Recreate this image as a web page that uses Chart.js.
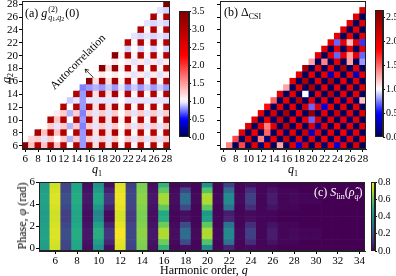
<!DOCTYPE html>
<html><head><meta charset="utf-8">
<script src="https://cdn.jsdelivr.net/npm/chart.js@4.4.1/dist/chart.umd.min.js"></script>
<style>
html,body{margin:0;padding:0;background:#fff;width:396px;height:276px;overflow:hidden;position:relative;font-family:"Liberation Serif",serif;}
canvas{position:absolute;}
.t{position:absolute;white-space:nowrap;color:#000;font-size:12px;line-height:1;font-family:"Liberation Serif",serif;}
.r{transform:translate(-50%,-50%) rotate(-90deg);}
.i{font-style:italic;}
.ss{display:inline-block;vertical-align:middle;line-height:1;font-size:8px;margin:0 1px;}
.ss > span{display:block;}
.s6{font-size:6px;font-style:normal;vertical-align:-1px;}
sub{font-size:8px;vertical-align:-3px;line-height:0;}
</style></head><body>
<canvas id="cA" width="176" height="176" style="left:0;top:0"></canvas>
<canvas id="cbA" width="40" height="150" style="left:170px;top:0"></canvas>
<canvas id="cB" width="170" height="176" style="left:200px;top:0"></canvas>
<canvas id="cbB" width="30" height="150" style="left:366px;top:0"></canvas>
<canvas id="cC" width="370" height="100" style="left:0;top:176px"></canvas>
<canvas id="cbC" width="30" height="100" style="left:366px;top:176px"></canvas>

<div class="t" style="left:25px;top:6px">(a) <span class="i">g</span><span class="ss"><span>(2)</span><span><span class="i">q</span><span class="s6">1</span>,<span class="i">q</span><span class="s6">2</span></span></span>(0)</div>
<div class="t" style="left:224px;top:6px">(b) Δ<sub>CSI</sub></div>
<div class="t" style="left:314px;top:186px;color:#fff">(c) <span class="i">S</span><sub>lin</sub>(<span class="i">ρ̂</span><sub class="i">q</sub>)</div>
<div class="t i" style="left:92px;top:163px">q<sub style="font-style:normal">1</sub></div>
<div class="t i" style="left:288px;top:163px">q<sub style="font-style:normal">1</sub></div>
<div class="t i r" style="left:6px;top:78px">q<sub style="font-style:normal">2</sub></div>
<div class="t" style="left:78px;top:62px;font-size:11.5px;transform:translate(-50%,-50%) rotate(-45deg)">Autocorrelation</div>
<div class="t r" style="left:22px;top:216px">Phase, <span class="i">φ</span> (rad)</div>
<div class="t" style="left:160px;top:264px">Harmonic order, <span class="i">q</span></div>

<script>
// ---------- data ----------
const qTicks = [6,8,10,12,14,16,18,20,22,24,26,28];
const q2Rows = [6,7,8,9,10,11,12,13,14,15,16,17,18,19,20,21,22,23,24,25,26,27,28];
// panel (a): g2(q1,q2), each row q2 lists q1 = q2..28
const g2Rows = [
 [3.4,1.3,3.0,1.3,3.0,1.3,3.0,1.0,3.0,0.8,3.1,1.15,3.0,1.15,3.1,1.05,3.0,1.05,3.0,1.05,3.0,1.05,3.0],
 [1.2,1.25,0.95,1.25,1.0,1.25,0.85,1.25,0.8,1.25,0.95,1.25,0.95,1.25,1.0,1.25,0.95,1.25,0.95,1.25,0.95,1.25],
 [3.1,1.3,3.0,1.3,3.0,1.0,3.0,0.8,3.1,1.15,3.0,1.15,3.1,1.05,3.0,1.05,3.0,1.05,3.0,1.05,3.0],
 [1.0,1.25,0.95,1.25,0.85,1.25,0.75,1.25,0.95,1.25,0.95,1.25,1.0,1.25,0.95,1.25,0.95,1.25,0.95,1.25],
 [3.0,1.3,3.0,1.0,3.0,0.8,3.1,1.15,3.0,1.15,3.1,1.05,3.0,1.05,3.0,1.05,3.0,1.05,3.0],
 [1.1,1.25,0.85,1.25,0.75,1.25,0.95,1.25,0.95,1.25,1.0,1.25,0.95,1.25,0.95,1.25,0.95,1.25],
 [3.0,1.0,3.0,0.8,3.1,1.15,3.0,1.15,3.1,1.05,3.0,1.05,3.0,1.05,3.0,1.05,3.0],
 [0.9,0.95,0.8,0.95,0.95,0.95,0.95,0.95,1.0,0.95,0.95,0.95,0.95,0.95,0.95,0.95],
 [3.0,0.8,3.1,1.15,3.0,1.15,3.1,1.05,3.0,1.05,3.0,1.05,3.0,1.05,3.0],
 [0.75,0.8,0.85,0.8,0.9,0.8,0.95,0.8,0.9,0.8,0.9,0.8,0.9,0.8],
 [3.4,1.15,3.1,1.15,3.2,1.05,3.0,1.05,3.0,1.05,3.0,1.05,3.0],
 [1.0,1.1,1.0,1.1,1.0,1.1,0.95,1.1,0.95,1.1,0.95,1.1],
 [3.4,1.15,3.3,1.05,3.0,1.05,3.0,1.05,3.0,1.05,3.0],
 [1.0,1.1,1.0,1.1,0.95,1.1,0.95,1.1,0.95,1.1],
 [3.4,1.05,3.0,1.05,3.0,1.05,3.0,1.05,3.0],
 [1.0,0.92,1.0,0.92,1.0,0.92,1.0,0.92],
 [3.0,1.05,3.0,1.05,3.0,1.05,3.0],
 [0.95,0.92,0.95,0.92,0.95,0.92],
 [3.0,1.05,3.0,1.05,3.0],
 [0.95,0.92,0.95,0.92],
 [3.1,1.05,3.0],
 [0.95,0.92],
 [3.5]
];
// panel (b): Delta_CSI(q1,q2), each row q2 lists q1 = q2+1..28
const csiRowsQ2 = [6,7,8,9,10,11,12,13,14,15,16,17,18,19,20,21,22,23,24,25,26,27];
const csiRows = [
 [1.4,0.05,1.6,0.05,2.0,0.1,1.9,0.05,1.3,0.05,2.0,0.4,2.1,0.05,2.0,0.1,1.9,0.4,2.0,0.05,2.1,0.05],
 [1.6,0.05,2.0,0.05,1.4,0.1,2.0,0.05,2.2,0.05,2.0,0.1,2.0,0.05,1.9,0.05,2.0,0.1,2.0,0.05,1.9],
 [2.0,0.05,1.9,0.05,1.5,0.05,2.0,0.1,2.0,0.05,2.2,0.35,2.0,0.05,2.0,0.05,1.9,0.1,2.0,0.05],
 [2.0,0.05,2.0,1.4,2.0,0.05,2.3,0.05,2.0,0.05,2.0,0.2,2.0,0.05,1.9,0.05,2.0,0.05,2.0],
 [2.0,0.05,2.0,0.1,2.2,0.05,2.0,0.05,2.0,0.7,2.1,0.05,2.0,0.05,2.0,0.1,2.0,0.05],
 [2.0,0.05,2.1,0.05,2.4,0.05,2.0,0.05,2.5,0.05,2.0,0.05,2.2,0.05,2.0,0.05,2.0],
 [1.8,0.05,2.0,0.05,2.0,0.05,2.1,0.7,2.0,0.4,2.0,0.05,2.0,0.05,2.0,0.05],
 [1.5,0.05,2.0,0.05,2.3,0.05,2.0,0.05,2.0,0.05,2.0,0.1,2.0,0.05,1.2],
 [2.0,0.05,2.0,0.05,1.0,0.05,2.0,0.05,2.3,0.05,2.0,0.05,2.0,0.05],
 [1.3,0.05,2.0,0.05,2.4,0.05,2.0,0.05,2.0,0.05,2.0,0.05,2.0],
 [2.0,0.05,2.4,0.05,2.0,0.05,2.4,0.05,2.0,0.05,2.0,0.05],
 [2.0,0.05,2.0,0.05,2.0,0.3,2.0,0.05,2.0,0.3,2.0],
 [2.4,0.05,2.0,0.05,2.0,0.05,2.4,0.05,2.0,0.05],
 [1.3,0.05,1.4,0.05,2.0,0.05,1.3,0.05,0.8],
 [2.0,0.05,2.0,0.7,2.0,1.3,2.0,0.7],
 [2.0,0.05,2.0,0.05,2.0,0.05,2.0],
 [2.0,0.7,2.0,1.2,2.0,0.6],
 [2.0,0.05,2.0,0.05,2.0],
 [2.0,0.05,2.0,0.05],
 [2.0,0.05,2.0],
 [2.0,0.05],
 [2.0]
];
// panel (c): S_lin, harmonic columns, values listed bottom->top over phases
const harmonics = [5,6,7,8,9,10,11,12,13,14,15,16,17,18,19,20,21,22,23,24,25,26,27,28,29,30,31,32,33,34];
const phases = [0,0.524,1.047,1.571,2.094,2.618,3.142,3.665,4.189,4.712,5.236,5.760];
const slin = [
 [0.44,0.45,0.46,0.46,0.45,0.44,0.44,0.45,0.46,0.46,0.45,0.44],
 [0.74,0.75,0.76,0.76,0.75,0.74,0.74,0.75,0.76,0.76,0.75,0.74],
 [0.16,0.17,0.19,0.19,0.17,0.15,0.15,0.17,0.19,0.19,0.17,0.16],
 [0.47,0.48,0.49,0.49,0.48,0.47,0.47,0.48,0.49,0.49,0.48,0.47],
 [0.03,0.04,0.05,0.05,0.04,0.03,0.03,0.04,0.05,0.05,0.04,0.03],
 [0.40,0.45,0.50,0.50,0.45,0.38,0.36,0.42,0.48,0.48,0.44,0.40],
 [0.03,0.08,0.12,0.12,0.07,0.02,0.02,0.07,0.12,0.12,0.07,0.03],
 [0.76,0.77,0.79,0.79,0.77,0.75,0.75,0.77,0.78,0.78,0.77,0.76],
 [0.15,0.16,0.17,0.17,0.16,0.14,0.14,0.16,0.17,0.17,0.16,0.15],
 [0.64,0.65,0.66,0.66,0.65,0.64,0.64,0.65,0.66,0.66,0.65,0.64],
 [0.03,0.04,0.05,0.05,0.04,0.03,0.03,0.04,0.05,0.05,0.04,0.03],
 [0.52,0.62,0.70,0.70,0.62,0.50,0.48,0.60,0.69,0.69,0.60,0.52],
 [0.01,0.02,0.03,0.03,0.02,0.01,0.01,0.02,0.03,0.03,0.02,0.01],
 [0.03,0.18,0.28,0.28,0.18,0.04,0.03,0.18,0.28,0.28,0.17,0.03],
 [0.01,0.01,0.02,0.02,0.01,0.01,0.01,0.01,0.02,0.02,0.01,0.01],
 [0.38,0.58,0.70,0.70,0.60,0.45,0.42,0.60,0.70,0.70,0.58,0.40],
 [0.01,0.01,0.02,0.02,0.01,0.01,0.01,0.01,0.02,0.02,0.01,0.01],
 [0.08,0.30,0.38,0.38,0.30,0.08,0.06,0.30,0.38,0.38,0.28,0.15],
 [0.01,0.01,0.02,0.02,0.01,0.01,0.01,0.01,0.02,0.02,0.01,0.01],
 [0.02,0.10,0.15,0.15,0.10,0.03,0.02,0.10,0.15,0.15,0.10,0.03],
 [0.01,0.01,0.01,0.01,0.01,0.01,0.01,0.01,0.01,0.01,0.01,0.01],
 [0.01,0.04,0.06,0.06,0.04,0.01,0.01,0.04,0.06,0.06,0.04,0.01],
 [0.00,0.01,0.01,0.01,0.01,0.00,0.00,0.01,0.01,0.01,0.01,0.00],
 [0.00,0.01,0.02,0.02,0.01,0.00,0.00,0.01,0.02,0.02,0.01,0.00],
 [0.00,0.00,0.01,0.01,0.00,0.00,0.00,0.00,0.01,0.01,0.00,0.00],
 [0.00,0.00,0.01,0.01,0.00,0.00,0.00,0.00,0.01,0.01,0.00,0.00],
 [0.00,0.00,0.00,0.00,0.00,0.00,0.00,0.00,0.00,0.00,0.00,0.00],
 [0.00,0.00,0.00,0.00,0.00,0.00,0.00,0.00,0.00,0.00,0.00,0.00],
 [0.00,0.00,0.00,0.00,0.00,0.00,0.00,0.00,0.00,0.00,0.00,0.00],
 [0.00,0.00,0.00,0.00,0.00,0.00,0.00,0.00,0.00,0.00,0.00,0.00]
];
const phaseTicks = [0,2,4,6];
const hTicks = [6,8,10,12,14,16,18,20,22,24,26,28,30,32,34];
const gMax = 3.5, csiMax = 2.65, sMax = 0.8;
const gCbTicks = [0,0.5,1,1.5,2,2.5,3,3.5];
const csiCbTicks = [0,0.5,1,1.5,2,2.5];
const sCbTicks = [0,0.2,0.4,0.6,0.8];

// ---------- colour maps ----------
const seismicStops = [[0,0,0.3],[0,0,1],[1,1,1],[1,0,0],[0.5,0,0]];
function lerpStops(stops, t){
  t = Math.max(0, Math.min(1, t));
  const n = stops.length - 1, p = t*n, i = Math.min(n-1, Math.floor(p)), f = p - i;
  return stops[i].map((c,k)=> c + (stops[i+1][k]-c)*f);
}
function rgb(c){return 'rgb('+c.map(v=>Math.round(v*255)).join(',')+')';}
function seismicT(v, vmax){ return v < 1 ? 0.5*v : 0.5 + 0.5*(v-1)/(vmax-1); }
function seismic(v, vmax){ return rgb(lerpStops(seismicStops, seismicT(v, vmax))); }
const viridisHex = ['#440154','#482475','#414487','#355f8d','#2a788e','#21918c','#22a884','#44bf70','#7ad151','#bddf26','#fde725'];
const viridisStops = viridisHex.map(h=>[1,3,5].map(k=>parseInt(h.substr(k,2),16)/255));
function viridis(v){ return rgb(lerpStops(viridisStops, v/sMax)); }

// ---------- helpers ----------
const FONT = {family:'Liberation Serif', size:11};
const framePlugin = {id:'frame', afterDraw(chart){
  const {ctx, chartArea:a} = chart; ctx.save(); ctx.strokeStyle='#222'; ctx.lineWidth=1;
  ctx.strokeRect(a.left+0.5, a.top+0.5, a.right-a.left-1, a.bottom-a.top-1); ctx.restore();
}};
function axis(min, max, tickVals, fixed, opts){
  return Object.assign({
    type:'linear', min, max, offset:false,
    afterBuildTicks:s=>{ s.ticks = tickVals.map(v=>({value:v})); },
    afterFit:s=>{ if(s.isHorizontal()){ s.height=fixed; s.paddingLeft=0; s.paddingRight=0; } else { s.width=fixed; s.paddingTop=0; s.paddingBottom=0; } },
    ticks:{autoSkip:false, maxRotation:0, padding:1, font:FONT, color:'#000'},
    grid:{drawOnChartArea:false, drawTicks:true, tickLength:3, color:'#000', offset:false},
    border:{display:true, color:'#222'}
  }, opts||{});
}
const barBase = {borderWidth:0, barPercentage:1, categoryPercentage:1, grouped:false};
const common = {responsive:false, animation:false, events:[], plugins:{legend:{display:false}, tooltip:{enabled:false}}};

// ---------- panel (a) ----------
const dsA = g2Rows.map((row, r)=>{
  const q2 = q2Rows[r];
  return Object.assign({type:'bar',
    data: row.map((v,k)=>({x:q2+k, y:[q2-0.5, q2+0.5]})),
    backgroundColor: row.map(v=>seismic(v, gMax))}, barBase);
});
dsA.push({type:'line', data:[{x:5.5,y:5.5},{x:28.5,y:28.5}], borderColor:'#000', borderWidth:1.5, pointRadius:0});
const arrowPlugin = {id:'arrow', afterDatasetsDraw(chart){
  const xs = chart.scales.x, ys = chart.scales.y, ctx = chart.ctx;
  const x0 = xs.getPixelForValue(16.6), y0 = ys.getPixelForValue(16.6);
  const x1 = xs.getPixelForValue(15.3), y1 = ys.getPixelForValue(17.9);
  ctx.save(); ctx.strokeStyle='#000'; ctx.lineWidth=0.8;
  ctx.beginPath(); ctx.moveTo(x0,y0); ctx.lineTo(x1,y1); ctx.stroke();
  const ang = Math.atan2(y1-y0, x1-x0);
  ctx.beginPath();
  ctx.moveTo(x1+4*Math.cos(ang+2.6), y1+4*Math.sin(ang+2.6)); ctx.lineTo(x1,y1);
  ctx.lineTo(x1+4*Math.cos(ang-2.6), y1+4*Math.sin(ang-2.6)); ctx.stroke();
  ctx.restore();
}};
new Chart(document.getElementById('cA'), {
  type:'bar', data:{datasets:dsA},
  options:Object.assign({}, common, {
    layout:{padding:{top:1, right:6, left:0, bottom:0}},
    scales:{ x: axis(5.5, 28.5, qTicks, 27), y: axis(5.5, 28.5, qTicks, 22) }
  }),
  plugins:[framePlugin, arrowPlugin]
});

// ---------- panel (b) ----------
const dsB = csiRows.map((row, r)=>{
  const q2 = csiRowsQ2[r];
  return Object.assign({type:'bar',
    data: row.map((v,k)=>({x:q2+1+k, y:[q2-0.5, q2+0.5]})),
    backgroundColor: row.map(v=>seismic(v, csiMax))}, barBase);
});
new Chart(document.getElementById('cB'), {
  type:'bar', data:{datasets:dsB},
  options:Object.assign({}, common, {
    layout:{padding:{top:1, right:4, left:0, bottom:0}},
    scales:{ x: axis(5.5, 28.5, qTicks, 27),
             y: axis(5.5, 28.5, qTicks, 20, {ticks:{display:false}}) }
  }),
  plugins:[framePlugin]
});

// ---------- panel (c) ----------
const dsC = phases.map((ph, r)=>{
  const h = 2*Math.PI/phases.length;
  return Object.assign({type:'bar',
    data: harmonics.map((q,k)=>({x:q, y:[ph-h/2, ph+h/2]})),
    backgroundColor: harmonics.map((q,k)=>viridis(slin[k][r]))}, barBase);
});
new Chart(document.getElementById('cC'), {
  type:'bar', data:{datasets:dsC},
  options:Object.assign({}, common, {
    layout:{padding:{top:6, right:5, left:0, bottom:0}},
    scales:{ x: axis(4.5, 34.5, hTicks, 25), y: axis(-0.262, 6.021, phaseTicks, 39) }
  }),
  plugins:[framePlugin]
});

// ---------- colour bars ----------
function colorbar(id, vmax, ticks, colorAt, pad, yWidth, fontSize){
  new Chart(document.getElementById(id), {
    type:'bar',
    data:{labels:[''], datasets:[Object.assign({data:[[0, vmax]],
      backgroundColor:(c)=>{
        const a = c.chart.chartArea; if(!a) return null;
        const g = c.chart.ctx.createLinearGradient(0, a.bottom, 0, a.top);
        for(let i=0;i<=40;i++){ g.addColorStop(i/40, colorAt(vmax*i/40)); }
        return g;
      }}, barBase)]},
    options:Object.assign({}, common, {
      layout:{padding:pad},
      scales:{
        x:{display:false},
        y:{type:'linear', position:'right', min:0, max:vmax,
           afterBuildTicks:s=>{ s.ticks = ticks.map(v=>({value:v})); },
           afterFit:s=>{ s.width=yWidth; s.paddingTop=0; s.paddingBottom=0; },
           ticks:{padding:1, font:{family:'Liberation Serif', size:fontSize}, color:'#000', callback:v=>v.toFixed(1)},
           grid:{drawOnChartArea:false, drawTicks:true, tickLength:2, color:'#000'},
           border:{display:true, color:'#222'}}
      }
    }),
    plugins:[framePlugin]
  });
}
colorbar('cbA', gMax, gCbTicks, v=>seismic(v,gMax), {top:11, bottom:13, left:9, right:0}, 21, 10);
colorbar('cbB', csiMax, csiCbTicks, v=>seismic(v,csiMax), {top:10, bottom:13, left:9, right:0}, 13, 10);
colorbar('cbC', sMax, sCbTicks, v=>viridis(v), {top:6, bottom:25, left:5, right:0}, 21, 10);
</script>
</body></html>
